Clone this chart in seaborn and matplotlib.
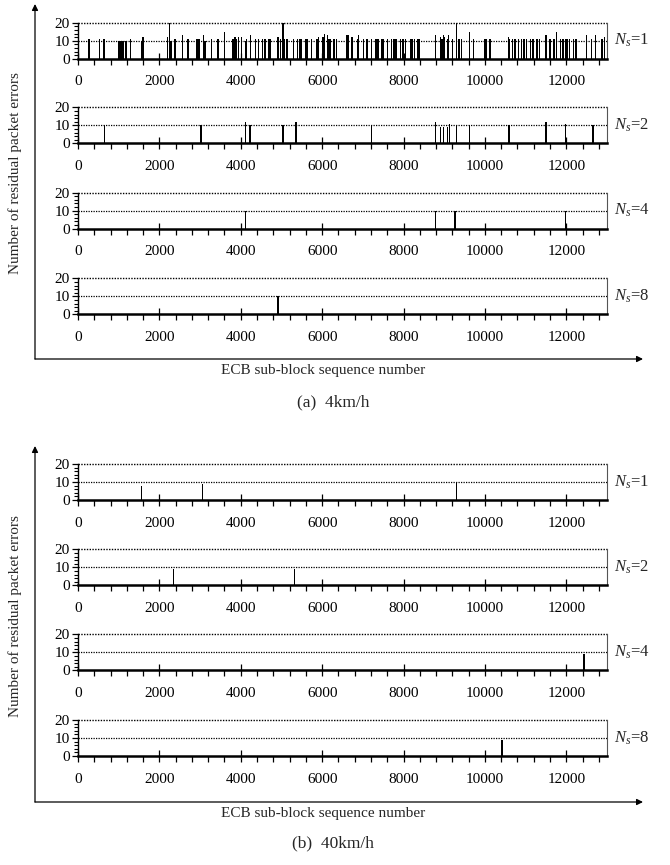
import matplotlib
matplotlib.use("Agg")
import matplotlib.pyplot as plt
from matplotlib.patches import FancyArrowPatch
from matplotlib.ticker import MultipleLocator
import pandas as pd
import seaborn as sns

sns.set_theme(style="ticks")
plt.rcParams["font.family"] = ["Liberation Serif", "DejaVu Serif"]
plt.rcParams["mathtext.fontset"] = "custom"
plt.rcParams["mathtext.rm"] = "Liberation Serif"
plt.rcParams["mathtext.it"] = "Liberation Serif:italic"

# ---------------- data ----------------
ns_levels = [1, 2, 4, 8]
x_ticks = [0, 2000, 4000, 6000, 8000, 10000, 12000]
y_ticks = [0, 10, 20]

# (a) 4 km/h
a_ns1_seq = [30, 256, 540, 625, 666, 993, 1030, 1075, 1115, 1157, 1198, 1290, 1550, 1575, 1630,
             2206, 2240, 2263, 2300, 2386, 2590, 2710, 2919, 2960, 3000, 3081, 3123, 3287, 3450,
             3614, 3779, 3820, 3860, 3902, 3941, 4024, 4106, 4147, 4229, 4352, 4433, 4516, 4598,
             4680, 4721, 4925, 4966, 5031, 5080, 5130, 5293, 5376, 5457, 5499, 5581, 5622, 5663,
             5744, 5867, 5907, 5990, 6030, 6071, 6113, 6152, 6194, 6275, 6359, 6604, 6644, 6727,
             6850, 6890, 7013, 7095, 7135, 7219, 7300, 7342, 7381, 7465, 7504, 7587, 7710, 7749,
             7791, 7832, 7914, 7995, 8037, 8160, 8201, 8283, 8324, 8364, 8405, 8774, 8897, 8938,
             8978, 9020, 9061, 9101, 9184, 9283, 9346, 9430, 9617, 9715, 10002, 10044, 10125,
             10575, 10617, 10658, 10740, 10821, 10904, 10944, 11027, 11108, 11190, 11272, 11354,
             11501, 11600, 11680, 11747, 11845, 11926, 11968, 12010, 12091, 12172, 12255, 12500,
             12624, 12705, 12870, 12951]
a_ns1_err = [12, 11, 11, 11, 11, 10, 10, 10, 10, 10, 10, 11, 10, 12, 12,
             12, 11, 11, 10, 11, 13, 11, 11, 11, 11, 13, 10, 11, 11,
             15, 11, 11, 12, 11, 12, 12, 10, 11, 13, 11, 11, 11, 11,
             11, 11, 12, 11, 20, 11, 11, 11, 11, 11, 11, 11, 11, 11,
             11, 11, 12, 12, 12, 14, 13, 11, 11, 11, 11, 13, 13, 12,
             11, 13, 11, 11, 11, 11, 11, 11, 11, 11, 11, 11, 11, 11,
             11, 11, 11, 11, 11, 11, 11, 11, 11, 11, 11, 13, 12, 11,
             13, 12, 11, 13, 11, 20, 11, 11, 15, 11, 11, 11, 11,
             12, 11, 11, 11, 11, 11, 11, 11, 11, 11, 11, 11,
             13, 11, 11, 15, 11, 11, 11, 11, 11, 11, 11, 13,
             11, 13, 11, 12]
a_ns2_seq = [666, 3024, 4106, 4212, 4246, 5031, 5359, 7201, 8774, 8897, 8978, 9061, 9125,
             9283, 9617, 10560, 10592, 11515, 11993, 12640]
a_ns2_err = [10, 10, 12, 10, 10, 10, 12, 10, 12, 9, 9, 9, 11, 10, 10, 10, 10, 12, 11, 10]
a_ns4_seq = [4106, 8774, 9273, 11993]
a_ns4_err = [10, 10, 10, 10]
a_ns8_seq = [4915]
a_ns8_err = [10]

# (b) 40 km/h
b_ns1_seq = [1543, 3057, 9283]
b_ns1_err = [8, 9, 10]
b_ns2_seq = [2344, 5334]
b_ns2_err = [9, 9]
b_ns4_seq = [12440]
b_ns4_err = [9]
b_ns8_seq = [10400]
b_ns8_err = [9]

groups = [
    ("(a)  4km/h", [(a_ns1_seq, a_ns1_err), (a_ns2_seq, a_ns2_err),
                    (a_ns4_seq, a_ns4_err), (a_ns8_seq, a_ns8_err)]),
    ("(b)  40km/h", [(b_ns1_seq, b_ns1_err), (b_ns2_seq, b_ns2_err),
                     (b_ns4_seq, b_ns4_err), (b_ns8_seq, b_ns8_err)]),
]

# ---------------- layout (pixels) ----------------
W, H = 670, 865
fig = plt.figure(figsize=(W / 100, H / 100), dpi=100)

AX_LEFT, AX_RIGHT, AX_H = 78, 607, 36
panel_tops = [[22.7, 107.3, 192.7, 278.3], [464.0, 549.3, 634.3, 720.0]]
frame_top = [4, 446]
frame_base = [359, 802]
ylabel_y = [173, 616]
xlabel_y = [371, 813]
caption_y = [402, 843]

TICK_FS = 11


def fx(px):
    return px / W


def fy(py):
    return 1 - py / H


def draw_panel(top, seq, err, ns):
    ax = fig.add_axes([fx(AX_LEFT), fy(top + AX_H), (AX_RIGHT - AX_LEFT) / W, AX_H / H])
    df = pd.DataFrame({"seq": seq, "errors": err})
    sns.histplot(data=df, x="seq", weights="errors", binwidth=32, binrange=(0, 13024),
                 color="black", alpha=1, linewidth=0, element="bars", ax=ax)
    ax.set_xlim(0, 13000)
    ax.set_ylim(0, 20)
    ax.set_xlabel("")
    ax.set_ylabel("")
    for yv in (10, 20):
        ax.axhline(yv, color="black", lw=1.0 if yv == 20 else 0.9, ls=(0, (1, 1)),
                   clip_on=False, zorder=0)
    ax.spines["top"].set_visible(False)
    ax.spines["right"].set_color("#555555")
    ax.spines["right"].set_linewidth(0.8)
    ax.spines["bottom"].set_linewidth(1.8)
    ax.spines["bottom"].set_color("black")
    ax.spines["left"].set_linewidth(1.0)
    ax.spines["left"].set_color("black")

    ax.set_xticks(x_ticks)
    ax.set_xticklabels([str(v) for v in x_ticks], fontsize=TICK_FS)
    ax.xaxis.set_minor_locator(MultipleLocator(400))
    ax.set_yticks(y_ticks)
    ax.set_yticklabels([str(v) for v in y_ticks], fontsize=TICK_FS)
    ax.yaxis.set_minor_locator(MultipleLocator(2))
    ax.tick_params(axis="x", which="major", direction="inout", length=8, width=0.9,
                   pad=8, colors="black", bottom=True)
    ax.tick_params(axis="x", which="minor", direction="out", length=4, width=0.9,
                   colors="black", bottom=True)
    ax.tick_params(axis="y", which="major", direction="out", length=4, width=0.9,
                   pad=2, colors="black", left=True)
    ax.tick_params(axis="y", which="minor", direction="out", length=3, width=0.8,
                   colors="black", left=True)
    ax.text(1.013, 10, rf"$N_s$=${ns}$", transform=ax.get_yaxis_transform(),
            ha="left", va="center", fontsize=12)
    ax.patch.set_alpha(0)
    return ax


def arrow(p0, p1):
    fig.add_artist(FancyArrowPatch((fx(p0[0]), fy(p0[1])), (fx(p1[0]), fy(p1[1])),
                                   transform=fig.transFigure, arrowstyle="-|>",
                                   mutation_scale=9, lw=0.9, color="black",
                                   shrinkA=0, shrinkB=0))


for g, (caption, series) in enumerate(groups):
    for top, (seq, err), ns in zip(panel_tops[g], series, ns_levels):
        draw_panel(top, seq, err, ns)
    arrow((35, frame_base[g]), (35, frame_top[g]))
    arrow((35, frame_base[g]), (643, frame_base[g]))
    fig.text(fx(15), fy(ylabel_y[g]), "Number of residual packet errors", rotation=90,
             ha="center", va="center", fontsize=11)
    fig.text(fx(323), fy(xlabel_y[g]), "ECB sub-block sequence number",
             ha="center", va="center", fontsize=11)
    fig.text(fx(333), fy(caption_y[g]), caption, ha="center", va="center", fontsize=12.5)

fig.savefig("out.png", dpi=100)
